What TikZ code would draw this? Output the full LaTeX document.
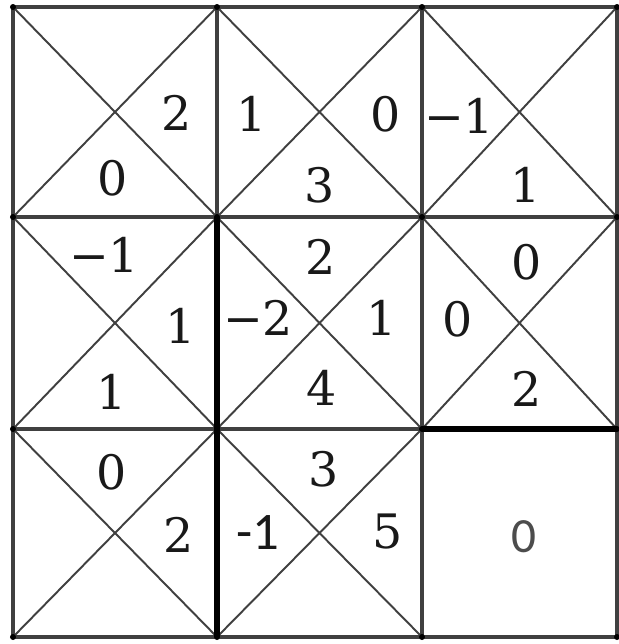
\documentclass[tikz,border=0pt]{standalone}
\usepackage{fontspec}
\setmainfont{DejaVu Serif}
\newfontfamily\calibri{Carlito}
\begin{document}
\begin{tikzpicture}[x=0.01cm,y=-0.01cm,font=\fontsize{13.5}{15}\selectfont,
	vien/.style={draw=black!75,line width=0.9pt},
	cheo/.style={draw=black!75,line width=0.55pt},
	dam/.style={draw=black,line width=1.5pt},
	so/.style={text=black!90,inner sep=0pt},
	sosans/.style={text=black!90,inner sep=0pt,font=\calibri\fontsize{15}{17}\selectfont}]
	\fill[white](0,0)rectangle(619,644);
	\useasboundingbox (0,0)rectangle(619,644);
	\foreach \i/\x in {0/13,1/217,2/422,3/617}
	\foreach \j/\y in {0/7,1/217,2/429,3/637}
	\coordinate (P\i\j) at (\x,\y);
	\foreach \i/\j/\ii/\jj in {0/0/1/1,1/0/2/1,2/0/3/1,0/1/1/2,1/1/2/2,2/1/3/2,0/2/1/3,1/2/2/3}
	\draw[cheo](P\i\j)--(P\ii\jj) (P\ii\j)--(P\i\jj);
	\draw[vien](P00)rectangle(P33);
	\foreach \k in {1,2}{
	\draw[vien](P\k0)--(P\k3);
	\draw[vien](P0\k)--(P3\k);
	}
	\draw[dam](P11)--(P13) (P22)--(P32);
	\foreach \i in {0,...,3}
	\foreach \j in {0,...,3}
	\fill[black](P\i\j)circle(3);
	\foreach \x/\y/\t [count=\n] in {177/113/2,113/178/0,252/114/1,386/114/0,320/185/3,459/116/−1,526/185/1,104/255/−1,181/326/1,112/392/1,321/257/2,258/318/−2,382/318/1,322/388/4,527/262/0,458/319/0,527/389/2,112/472/0,179/535/2,324/469/3,388/532/5}
	\node[so](so\n) at (\x,\y){\t};
	\node[sosans](tru) at (258,533){-1};
	\node[sosans,text=black!70,font=\calibri\fontsize{14}{16}\selectfont](khong) at (524,537){0};
\end{tikzpicture}
\end{document}
